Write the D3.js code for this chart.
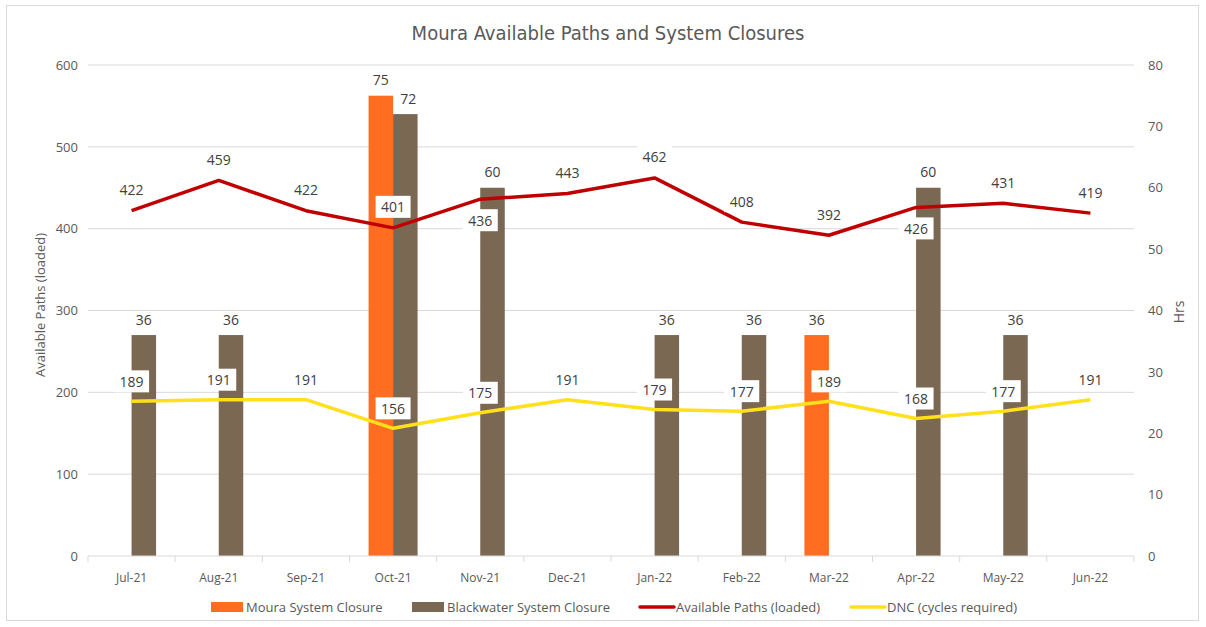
<!DOCTYPE html>
<html>
<head>
<meta charset="utf-8">
<script src="https://cdn.jsdelivr.net/npm/d3@7"></script>
<style>
  body { margin: 0; background: #fff; }
  svg { display: block; }
  .tick text { fill: #595959; }
</style>
</head>
<body>
<div id="container"></div>
<script>
const months = ["Jul-21", "Aug-21", "Sep-21", "Oct-21", "Nov-21", "Dec-21", "Jan-22", "Feb-22", "Mar-22", "Apr-22", "May-22", "Jun-22"];
const mouraClosure = [null, null, null, 75, null, null, null, null, 36, null, null, null];
const blackwaterClosure = [36, 36, null, 72, 60, null, 36, 36, null, 60, 36, null];
const availablePaths = [422, 459, 422, 401, 436, 443, 462, 408, 392, 426, 431, 419];
const dncCycles = [189, 191, 191, 156, 175, 191, 179, 177, 189, 168, 177, 191];
// which path labels sit under the point
const pathsLabelBelow = ["Nov-21", "Apr-22"];

const width = 1206, height = 627;
const plotLeft = 88, plotRight = 1134, plotTop = 65, plotBottom = 556;
const labelFont = "'Open Sans', 'Noto Sans', sans-serif";
const titleFont = "'DejaVu Sans Condensed', 'Open Sans', sans-serif";

const svg = d3.create("svg")
    .attr("width", width)
    .attr("height", height);

// chart border
svg.append("rect")
    .attr("x", 6.5).attr("y", 5.5)
    .attr("width", 1192).attr("height", 615)
    .attr("fill", "#fff")
    .attr("stroke", "#d9d9d9");

const x = d3.scaleBand().domain(months).range([plotLeft, plotRight]);
const yLeft = d3.scaleLinear().domain([0, 600]).range([plotBottom, plotTop]);
const yRight = d3.scaleLinear().domain([0, 80]).range([plotBottom, plotTop]);
const barW = 24.5;

// gridlines
svg.append("g")
    .selectAll("line")
    .data(yLeft.ticks(6).filter(d => d > 0))
    .join("line")
    .attr("x1", plotLeft).attr("x2", plotRight)
    .attr("y1", d => yLeft(d)).attr("y2", d => yLeft(d))
    .attr("stroke", "#d9d9d9")
    .attr("stroke-width", 1);

// left axis
const gl = svg.append("g")
    .attr("transform", `translate(${plotLeft - 10},0)`)
    .call(d3.axisLeft(yLeft).ticks(6).tickSize(0).tickPadding(0));
gl.select(".domain").remove();
gl.selectAll("text").style("font", `13px ${labelFont}`);

// right axis
const gr = svg.append("g")
    .attr("transform", `translate(${plotRight + 14},0)`)
    .call(d3.axisRight(yRight).ticks(8).tickSize(0).tickPadding(0));
gr.select(".domain").remove();
gr.selectAll("text").style("font", `13px ${labelFont}`);

// bars
const bars = svg.append("g");
bars.selectAll("rect.moura")
    .data(months.map((m, i) => ({ m, v: mouraClosure[i] })).filter(d => d.v != null))
    .join("rect")
    .attr("class", "moura")
    .attr("x", d => x(d.m) + x.bandwidth() / 2 - barW)
    .attr("width", barW)
    .attr("y", d => yRight(d.v))
    .attr("height", d => plotBottom - yRight(d.v))
    .attr("fill", "#ff6d21");
bars.selectAll("rect.bw")
    .data(months.map((m, i) => ({ m, v: blackwaterClosure[i] })).filter(d => d.v != null))
    .join("rect")
    .attr("class", "bw")
    .attr("x", d => x(d.m) + x.bandwidth() / 2)
    .attr("width", barW)
    .attr("y", d => yRight(d.v))
    .attr("height", d => plotBottom - yRight(d.v))
    .attr("fill", "#7b6853");

// x axis
const gx = svg.append("g")
    .attr("transform", `translate(0,${plotBottom})`);
gx.append("line")
    .attr("x1", plotLeft).attr("x2", plotRight)
    .attr("stroke", "#d9d9d9");
gx.selectAll("line.tk")
    .data(d3.range(months.length + 1))
    .join("line")
    .attr("class", "tk")
    .attr("x1", i => plotLeft + i * x.step()).attr("x2", i => plotLeft + i * x.step())
    .attr("y1", 0).attr("y2", 6)
    .attr("stroke", "#d9d9d9");
gx.selectAll("text")
    .data(months)
    .join("text")
    .attr("x", d => x(d) + x.bandwidth() / 2)
    .attr("y", 26)
    .attr("text-anchor", "middle")
    .attr("fill", "#595959")
    .style("font", `12px ${labelFont}`)
    .text(d => d);

// lines
const cx = m => x(m) + x.bandwidth() / 2;
const line = d3.line();
svg.append("path")
    .attr("d", line(months.map((m, i) => [cx(m), yLeft(availablePaths[i])])))
    .attr("fill", "none")
    .attr("stroke", "#c00000")
    .attr("stroke-width", 3.5)
    .attr("stroke-linejoin", "round");
svg.append("path")
    .attr("d", line(months.map((m, i) => [cx(m), yLeft(dncCycles[i])])))
    .attr("fill", "none")
    .attr("stroke", "#ffe01a")
    .attr("stroke-width", 3.5)
    .attr("stroke-linejoin", "round");

// data labels
const labels = svg.append("g");
const boxes = labels.append("g");
const texts = labels.append("g");

function plainLabel(xPos, yPos, txt) {
    return texts.append("text")
        .attr("x", xPos)
        .attr("y", yPos)
        .attr("text-anchor", "middle")
        .attr("dominant-baseline", "central")
        .attr("fill", "#404040")
        .style("font", `14px ${labelFont}`)
        .text(txt);
}
function addBoxed(xPos, yPos, txt) {
    const w = txt.length * 9 + 8;
    boxes.append("rect")
        .attr("x", xPos - w / 2).attr("y", yPos - 11)
        .attr("width", w).attr("height", 22)
        .attr("fill", "#fff");
    plainLabel(xPos, yPos, txt);
}

months.forEach((m, i) => {
    const below = pathsLabelBelow.includes(m);
    addBoxed(cx(m), yLeft(availablePaths[i]) + (below ? 21 : -21), String(availablePaths[i]));
    addBoxed(cx(m), yLeft(dncCycles[i]) - 20, String(dncCycles[i]));
    if (mouraClosure[i] != null)
        plainLabel(cx(m) - barW / 2, yRight(mouraClosure[i]) - 16, String(mouraClosure[i]));
    if (blackwaterClosure[i] != null)
        plainLabel(cx(m) + barW / 2 + (mouraClosure[i] != null ? 3 : 0), yRight(blackwaterClosure[i]) - 16, String(blackwaterClosure[i]));
});

// title
svg.append("text")
    .attr("x", 608).attr("y", 33)
    .attr("text-anchor", "middle")
    .attr("dominant-baseline", "central")
    .attr("fill", "#595959")
    .style("font", `20px ${titleFont}`)
    .text("Moura Available Paths and System Closures");

// axis titles
svg.append("text")
    .attr("transform", "translate(40,305) rotate(-90)")
    .attr("text-anchor", "middle")
    .attr("dominant-baseline", "central")
    .attr("fill", "#595959")
    .style("font", `13px ${labelFont}`)
    .text("Available Paths (loaded)");
svg.append("text")
    .attr("transform", "translate(1178,312) rotate(-90)")
    .attr("text-anchor", "middle")
    .attr("dominant-baseline", "central")
    .attr("fill", "#595959")
    .style("font", `14px ${labelFont}`)
    .text("Hrs");

// legend
const legendItems = [
    { name: "Moura System Closure", color: "#ff6d21", type: "rect", x: 211 },
    { name: "Blackwater System Closure", color: "#7b6853", type: "rect", x: 412 },
    { name: "Available Paths (loaded)", color: "#c00000", type: "line", x: 640 },
    { name: "DNC (cycles required)", color: "#ffe01a", type: "line", x: 851 }
];
const legend = svg.append("g").attr("transform", "translate(0,607)");
legendItems.forEach(d => {
    if (d.type === "rect") {
        legend.append("rect")
            .attr("x", d.x).attr("y", -5)
            .attr("width", 32).attr("height", 10)
            .attr("fill", d.color);
    } else {
        legend.append("line")
            .attr("x1", d.x).attr("x2", d.x + 34)
            .attr("stroke", d.color)
            .attr("stroke-width", 3.5)
            .attr("stroke-linecap", "round");
    }
    legend.append("text")
        .attr("x", d.x + (d.type === "rect" ? 35 : 36))
        .attr("y", 0)
        .attr("dominant-baseline", "central")
        .attr("fill", "#595959")
        .style("font", `13px ${labelFont}`)
        .text(d.name);
});

document.getElementById("container").append(svg.node());
</script>
</body>
</html>
